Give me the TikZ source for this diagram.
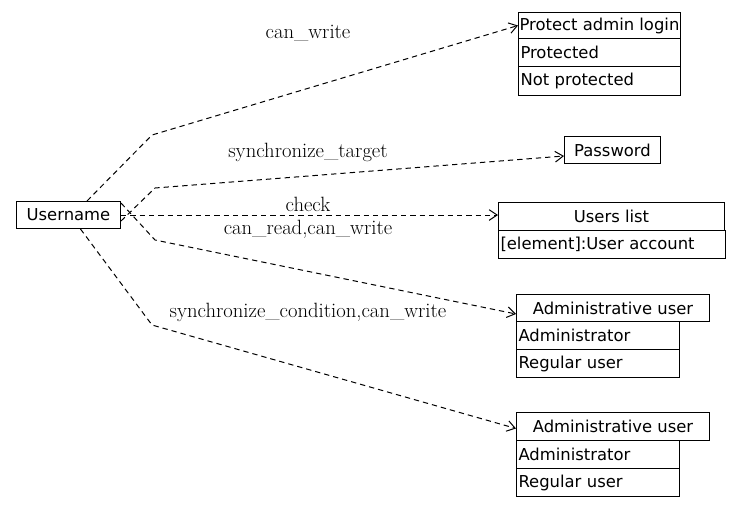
\documentclass[tikz,border=0pt]{standalone}
\usepackage{fontspec}
\setsansfont{DejaVu Sans}
\usetikzlibrary{arrows.meta, positioning}

\tikzset{
  rec/.style={draw, line width=0.75pt, inner sep=0pt, anchor=north west, font=\sffamily\fontsize{12.3}{14}\selectfont},
  hd/.style={rec, align=center},
  row/.style={rec, text width=#1, align=left, inner xsep=1.5pt},
  dep/.style={draw, line width=0.75pt, dash pattern=on 4pt off 3pt, -{Straight Barb[length=6pt,width=8pt]}},
  lbl/.style={font=\fontsize{15.5}{18}\selectfont}
}

\begin{document}
\begin{tikzpicture}[x=0.75pt, y=-0.75pt]
  \useasboundingbox (0,0) rectangle (740,507);

  \node[hd, minimum width=104*0.75pt, minimum height=27*0.75pt] (user) at (16,201) {Username};

  % protect admin login
  \node[hd, minimum width=162*0.75pt, minimum height=26*0.75pt] (prot) at (518,12) {Protect admin login};
  \node[row=158*0.75pt, minimum height=28*0.75pt] (prot1) at (518,38) {Protected};
  \node[row=158*0.75pt, minimum height=29*0.75pt] (prot2) at (518,66) {Not protected};

  % password
  \node[hd, minimum width=96*0.75pt, minimum height=27*0.75pt] (pass) at (564,136) {Password};

  % users list
  \node[hd, minimum width=226*0.75pt, minimum height=28*0.75pt] (ulist) at (498,202) {Users list};
  \node[row=223*0.75pt, minimum height=28*0.75pt] (ulist1) at (498,230) {[element]:User account};

  % administrative user
  \node[hd, minimum width=193*0.75pt, minimum height=27*0.75pt] (adm) at (516,294) {Administrative user};
  \node[row=159*0.75pt, minimum height=28*0.75pt] (adm1) at (516,321) {Administrator};
  \node[row=159*0.75pt, minimum height=28*0.75pt] (adm2) at (516,349) {Regular user};

  \node[hd, minimum width=193*0.75pt, minimum height=28*0.75pt] (admb) at (516,412) {Administrative user};
  \node[row=159*0.75pt, minimum height=28*0.75pt] (admb1) at (516,440) {Administrator};
  \node[row=159*0.75pt, minimum height=28*0.75pt] (admb2) at (516,468) {Regular user};

  \coordinate (b1) at (152,135);
  \coordinate (b2) at (155,188);
  \coordinate (b3) at (155,240);
  \coordinate (b4) at (152,325);

  \draw[dep] ([xshift=-34*0.75pt]user.north east) -- (b1) -- (prot.west);
  \draw[dep] ([yshift=-6*0.75pt]user.east) -- (b2) -- ([yshift=-6*0.75pt]pass.west);
  \draw[dep] (user.east) -- (ulist.west |- user.east);
  \draw[dep] ([yshift=12*0.75pt]user.east) -- (b3) -- ([yshift=-6*0.75pt]adm.west);
  \draw[dep] ([xshift=12*0.75pt]user.south) -- (b4) -- ([yshift=-2*0.75pt]admb.west);

  \node[lbl] (l1) at (308,33) {can\_write};
  \node[lbl] (l2) at (308,152) {synchronize\_target};
  \node[lbl] (l3) at (308,204) {check};
  \node[lbl] (l4) at (308,229) {can\_read,can\_write};
  \node[lbl] (l5) at (308,312) {synchronize\_condition,can\_write};
\end{tikzpicture}
\end{document}
